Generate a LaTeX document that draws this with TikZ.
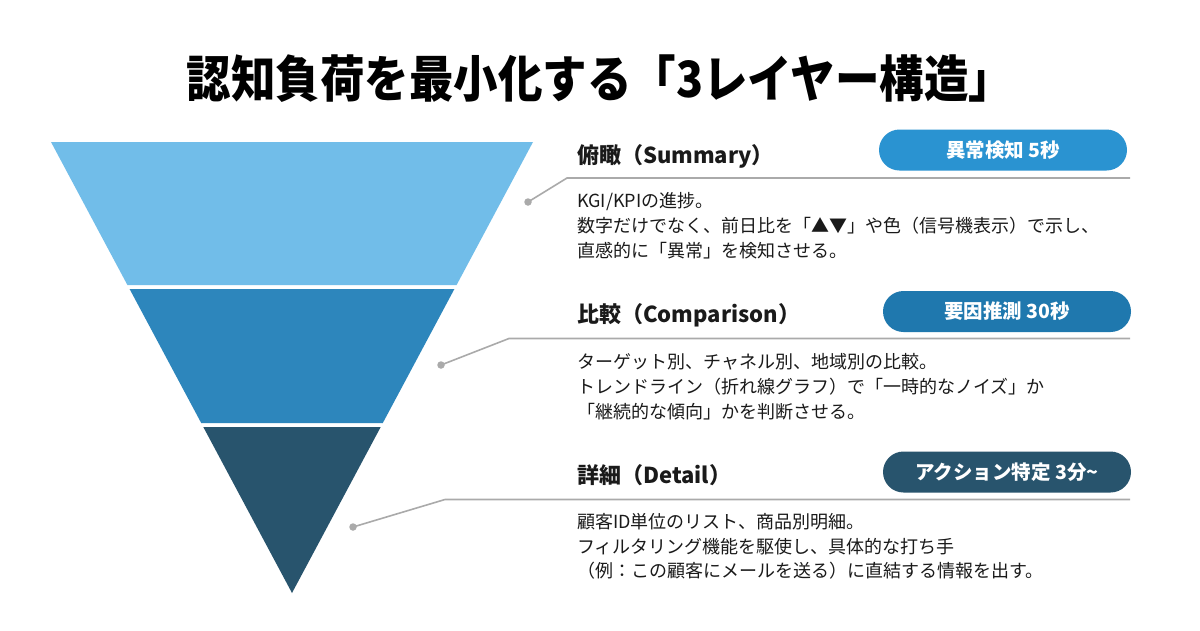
\documentclass[tikz,border=0pt]{standalone}
\usepackage{fontspec}
\setmainfont{Noto Sans CJK JP}
\newfontfamily\titlefont{Noto Sans CJK JP}[FakeStretch=0.89]
\definecolor{bandA}{HTML}{71BDE9}
\definecolor{bandB}{HTML}{2D86BC}
\definecolor{bandC}{HTML}{28546D}
\definecolor{badgeA}{HTML}{2A93D1}
\definecolor{badgeB}{HTML}{1F78AE}
\definecolor{badgeC}{HTML}{28546D}
\definecolor{linegray}{HTML}{AAAAAA}
\definecolor{textdark}{HTML}{1A1A1A}
\tikzset{
  bodyline/.style={anchor=base west, inner sep=0pt, text=textdark, font=\fontsize{18}{18}\selectfont},
  sectitle/.style={anchor=base west, inner sep=0pt, text=textdark, font=\fontsize{22}{22}\selectfont\bfseries},
  badge/.style={rectangle, rounded corners=20.5pt, minimum width=248pt, minimum height=41pt, inner sep=0pt,
    text=white, font=\fontsize{19.5}{19.5}\selectfont\bfseries, text height=14.8pt, text depth=0pt},
  dotmark/.style={circle, fill=linegray, minimum size=7.5pt, inner sep=0pt},
  conn/.style={draw=linegray, line width=1.6pt},
}
\begin{document}
\begin{tikzpicture}[x=1pt,y=-1pt]
\useasboundingbox (0,0) rectangle (1200,630);
\fill[white] (0,0) rectangle (1200,630);

% title
\node[anchor=base, inner sep=0pt, text=black, font=\titlefont\fontsize{50}{50}\selectfont\bfseries] (title) at (600,97) {認知負荷を最小化する「3レイヤー構造」};

% funnel bands
\fill[bandA] (51,142) -- (533,142) -- (456.6,285) -- (127.4,285) -- cycle;
\fill[bandB] (129.6,289) -- (454.4,289) -- (382.8,423) -- (201.2,423) -- cycle;
\fill[bandC] (203.3,427) -- (380.7,427) -- (292,593) -- cycle;

% ---- section 1
\node[sectitle] (t1) at (577,163.4) {俯瞰（Summary）};
\node[badge, fill=badgeA] (g1) at (1003,150) {異常検知 5秒};
\node[dotmark] (p1) at (528,202) {};
\coordinate (e1) at (567,178);
\coordinate (r1) at (1130,178);
\draw[conn] (p1.center) -- (e1) -- (r1);
\node[bodyline] (b11) at (577,207) {KGI/KPIの進捗。};
\node[bodyline] (b12) at (577,232) {数字だけでなく、前日比を「▲▼」や色（信号機表示）で示し、};
\node[bodyline] (b13) at (577,257) {直感的に「異常」を検知させる。};

% ---- section 2
\node[sectitle] (t2) at (577,322.4) {比較（Comparison）};
\node[badge, fill=badgeB] (g2) at (1007,311.5) {要因推測 30秒};
\node[dotmark] (p2) at (441,365) {};
\coordinate (e2) at (509,338.5);
\coordinate (r2) at (1130,338.5);
\draw[conn] (p2.center) -- (e2) -- (r2);
\node[bodyline] (b21) at (577,368) {ターゲット別、チャネル別、地域別の比較。};
\node[bodyline] (b22) at (577,393) {トレンドライン（折れ線グラフ）で「一時的なノイズ」か};
\node[bodyline] (b23) at (577,418) {「継続的な傾向」かを判断させる。};

% ---- section 3
\node[sectitle] (t3) at (577,483.4) {詳細（Detail）};
\node[badge, fill=badgeC] (g3) at (1007,472) {アクション特定 3分\textasciitilde};
\node[dotmark] (p3) at (353,527) {};
\coordinate (e3) at (445,499.5);
\coordinate (r3) at (1130,499.5);
\draw[conn] (p3.center) -- (e3) -- (r3);
\node[bodyline] (b31) at (577,528) {顧客ID単位のリスト、商品別明細。};
\node[bodyline] (b32) at (577,553) {フィルタリング機能を駆使し、具体的な打ち手};
\node[bodyline] (b33) at (577,577) {（例：この顧客にメールを送る）に直結する情報を出す。};
\end{tikzpicture}
\end{document}
